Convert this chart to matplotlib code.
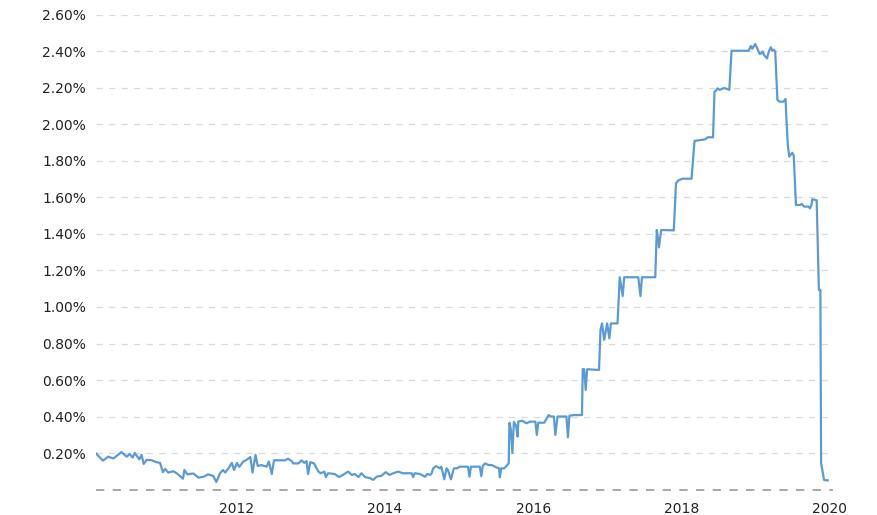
import matplotlib.pyplot as plt
from matplotlib.ticker import FuncFormatter

# Weekly rate (decimal years, percent)
years = [
    2010.095, 2010.19, 2010.26, 2010.33, 2010.44, 2010.51, 2010.55, 2010.59, 2010.62, 2010.68,
    2010.71, 2010.74, 2010.78, 2010.85, 2010.91, 2010.96, 2011.00, 2011.03, 2011.07, 2011.14,
    2011.19, 2011.27, 2011.29, 2011.33, 2011.41, 2011.48, 2011.55, 2011.61, 2011.68, 2011.72,
    2011.77, 2011.81, 2011.84, 2011.88, 2011.93, 2011.96, 2012.00, 2012.03, 2012.09, 2012.12,
    2012.18, 2012.21, 2012.25, 2012.28, 2012.33, 2012.40, 2012.43, 2012.47, 2012.50, 2012.65,
    2012.69, 2012.74, 2012.76, 2012.83, 2012.87, 2012.91, 2012.94, 2012.96, 2012.99, 2013.04,
    2013.10, 2013.13, 2013.18, 2013.20, 2013.23, 2013.32, 2013.38, 2013.43, 2013.50, 2013.55,
    2013.59, 2013.64, 2013.68, 2013.73, 2013.80, 2013.84, 2013.89, 2013.95, 2014.01, 2014.06,
    2014.11, 2014.18, 2014.24, 2014.36, 2014.38, 2014.40, 2014.47, 2014.54, 2014.57, 2014.61,
    2014.63, 2014.65, 2014.69, 2014.74, 2014.76, 2014.80, 2014.83, 2014.85, 2014.89, 2014.93,
    2014.97, 2015.01, 2015.12, 2015.14, 2015.16, 2015.28, 2015.30, 2015.32, 2015.35, 2015.40,
    2015.44, 2015.50, 2015.54, 2015.55, 2015.57, 2015.61, 2015.65, 2015.67, 2015.68, 2015.70,
    2015.72, 2015.74, 2015.77, 2015.79, 2015.80, 2015.85, 2015.91, 2015.96, 2016.03, 2016.05,
    2016.07, 2016.15, 2016.21, 2016.24, 2016.28, 2016.30, 2016.33, 2016.45, 2016.47, 2016.49,
    2016.55, 2016.66, 2016.67, 2016.69, 2016.71, 2016.73, 2016.89, 2016.91, 2016.93, 2016.96,
    2017.00, 2017.03, 2017.05, 2017.14, 2017.17, 2017.21, 2017.23, 2017.42, 2017.45, 2017.47,
    2017.65, 2017.67, 2017.69, 2017.70, 2017.73, 2017.90, 2017.93, 2017.96, 2018.02, 2018.14,
    2018.17, 2018.18, 2018.26, 2018.32, 2018.36, 2018.43, 2018.45, 2018.47, 2018.49, 2018.52,
    2018.58, 2018.65, 2018.68, 2018.91, 2018.94, 2018.96, 2019.00, 2019.03, 2019.06, 2019.08,
    2019.10, 2019.12, 2019.16, 2019.18, 2019.21, 2019.23, 2019.25, 2019.27, 2019.30, 2019.33,
    2019.38, 2019.41, 2019.42, 2019.44, 2019.46, 2019.50, 2019.52, 2019.55, 2019.61, 2019.63,
    2019.66, 2019.72, 2019.74, 2019.76, 2019.77, 2019.83, 2019.86, 2019.88, 2019.89, 2019.93,
    2019.98,
]
rates = [
    0.198, 0.158, 0.180, 0.170, 0.205, 0.180, 0.195, 0.175, 0.200, 0.165,
    0.190, 0.140, 0.163, 0.160, 0.150, 0.146, 0.095, 0.113, 0.093, 0.100,
    0.088, 0.059, 0.107, 0.083, 0.088, 0.065, 0.070, 0.083, 0.074, 0.041,
    0.088, 0.107, 0.093, 0.113, 0.146, 0.107, 0.146, 0.124, 0.155, 0.160,
    0.178, 0.093, 0.190, 0.129, 0.134, 0.125, 0.153, 0.085, 0.160, 0.160,
    0.169, 0.155, 0.143, 0.143, 0.160, 0.146, 0.155, 0.085, 0.150, 0.143,
    0.098, 0.089, 0.098, 0.068, 0.089, 0.085, 0.068, 0.080, 0.098, 0.080,
    0.085, 0.068, 0.089, 0.068, 0.062, 0.053, 0.071, 0.075, 0.095, 0.080,
    0.089, 0.098, 0.089, 0.089, 0.068, 0.089, 0.085, 0.070, 0.085, 0.080,
    0.090, 0.116, 0.128, 0.116, 0.125, 0.056, 0.116, 0.106, 0.056, 0.116,
    0.116, 0.125, 0.125, 0.070, 0.125, 0.125, 0.073, 0.128, 0.143, 0.134,
    0.134, 0.122, 0.116, 0.067, 0.116, 0.116, 0.134, 0.143, 0.366, 0.326,
    0.200, 0.370, 0.350, 0.290, 0.372, 0.377, 0.363, 0.372, 0.372, 0.299,
    0.366, 0.366, 0.408, 0.400, 0.400, 0.299, 0.400, 0.400, 0.286, 0.404,
    0.408, 0.408, 0.660, 0.659, 0.545, 0.659, 0.655, 0.874, 0.910, 0.820,
    0.910, 0.828, 0.910, 0.910, 1.163, 1.060, 1.163, 1.163, 1.060, 1.163,
    1.163, 1.422, 1.370, 1.327, 1.422, 1.420, 1.678, 1.693, 1.703, 1.703,
    1.860, 1.910, 1.915, 1.918, 1.930, 1.930, 2.180, 2.185, 2.198, 2.190,
    2.200, 2.190, 2.404, 2.404, 2.430, 2.415, 2.441, 2.415, 2.386, 2.390,
    2.400, 2.380, 2.362, 2.395, 2.423, 2.404, 2.410, 2.400, 2.134, 2.125,
    2.125, 2.140, 2.043, 1.888, 1.824, 1.845, 1.830, 1.559, 1.559, 1.565,
    1.550, 1.550, 1.540, 1.560, 1.590, 1.585, 1.093, 1.093, 0.144, 0.052,
    0.050,
]

year_ticks = [2012, 2014, 2016, 2018, 2020]
rate_ticks = [0.2, 0.4, 0.6, 0.8, 1.0, 1.2, 1.4, 1.6, 1.8, 2.0, 2.2, 2.4, 2.6]

fig = plt.figure(figsize=(8.78, 5.15), dpi=100)
ax = fig.add_axes([0.1093, 0.0495, 0.8394, 0.9214])

ax.plot(years, rates, color='#5B9BD5', linewidth=1.6, solid_joinstyle='round')

ax.set_xlim(2010.095, 2020.05)
ax.set_ylim(0, 2.6)
ax.set_xticks(year_ticks)
ax.set_xticklabels([str(y) for y in year_ticks])
ax.set_yticks(rate_ticks)
ax.yaxis.set_major_formatter(FuncFormatter(lambda v, p: '%.2f%%' % v))

# dashed horizontal grid, darker dashed baseline
ax.grid(axis='y', color='#d9d9d9', linestyle=(0, (5, 5)), linewidth=0.9)
ax.axhline(0, color='#999999', linestyle=(0, (5, 5)), linewidth=1.2, clip_on=False)
for side in ['top', 'right', 'left', 'bottom']:
    ax.spines[side].set_visible(False)

ax.tick_params(axis='both', length=0, labelsize=10, colors='#222222')
ax.tick_params(axis='y', pad=7)
ax.tick_params(axis='x', pad=9)

fig.savefig('out.png', dpi=100)
